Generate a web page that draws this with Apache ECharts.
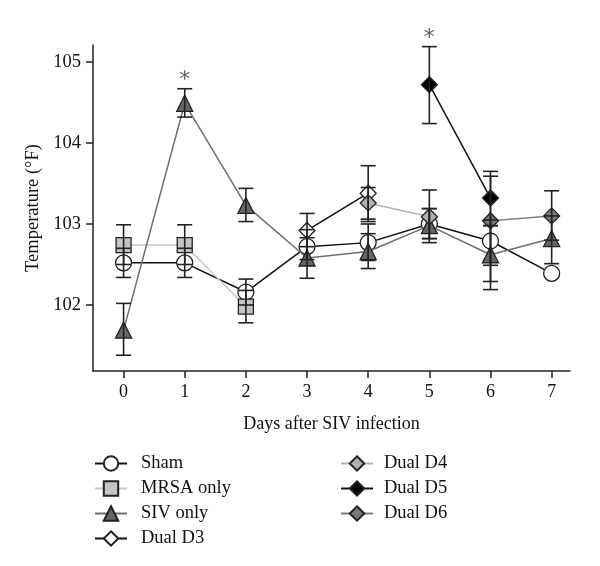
<!DOCTYPE html>
<html>
<head>
<meta charset="utf-8">
<script src="https://cdn.jsdelivr.net/npm/echarts@6/dist/echarts.min.js"></script>
<style>html,body{margin:0;padding:0;background:#fff}#c{width:600px;height:566px}</style>
</head>
<body>
<div id="c"></div>
<script>
const days = [0, 1, 2, 3, 4, 5, 6, 7];
const yTicks = [102, 103, 104, 105];

const shamMean = [102.52, 102.52, 102.16, 102.72, 102.77, 103.00, 102.79, 102.39];
const shamLow  = [102.34, 102.34, 102.00, 102.56, 102.55, 102.82, 102.29, null];
const shamHigh = [102.70, 102.70, 102.32, 102.93, 103.00, 103.19, 103.05, null];

const mrsaMean = [102.74, 102.74, 101.98, null, null, null, null, null];
const mrsaLow  = [102.50, 102.50, 101.78, null, null, null, null, null];
const mrsaHigh = [102.99, 102.99, 102.18, null, null, null, null, null];

const sivMean = [101.69, 104.49, 103.23, 102.58, 102.66, 102.98, 102.62, 102.82];
const sivLow  = [101.38, 104.32, 103.03, 102.33, 102.45, 102.77, 102.19, 102.51];
const sivHigh = [102.02, 104.67, 103.44, 102.83, 102.88, 103.19, 102.98, 103.10];

const d3Mean = [null, null, null, 102.92, 103.38, null, null, null];
const d3Low  = [null, null, null, 102.72, 103.06, null, null, null];
const d3High = [null, null, null, 103.13, 103.72, null, null, null];

const d4Mean = [null, null, null, null, 103.26, 103.09, null, null];
const d4Low  = [null, null, null, null, 103.03, 102.82, null, null];
const d4High = [null, null, null, null, 103.45, 103.42, null, null];

const d5Mean = [null, null, null, null, null, 104.72, 103.32, null];
const d5Low  = [null, null, null, null, null, 104.24, 102.98, null];
const d5High = [null, null, null, null, null, 105.19, 103.65, null];

const d6Mean = [null, null, null, null, null, null, 103.04, 103.10];
const d6Low  = [null, null, null, null, null, null, 102.49, 102.80];
const d6High = [null, null, null, null, null, null, 103.59, 103.41];

const sigDays = [1, 5];
const sigValues = [104.67, 105.19];

const FONT = '"Liberation Serif", "DejaVu Serif", serif';

const groups = [
  {name: 'Sham', mean: shamMean, low: shamLow, high: shamHigh, symbol: 'circle', size: 16, fill: '#ffffff', line: '#111111'},
  {name: 'MRSA only', mean: mrsaMean, low: mrsaLow, high: mrsaHigh, symbol: 'rect', size: 15, fill: '#c4c4c4', line: '#c8c8c8'},
  {name: 'SIV only', mean: sivMean, low: sivLow, high: sivHigh, symbol: 'triangle', size: 16, fill: '#666666', line: '#6e6e6e'},
  {name: 'Dual D3', mean: d3Mean, low: d3Low, high: d3High, symbol: 'diamond', size: 16, fill: '#ffffff', line: '#111111'},
  {name: 'Dual D4', mean: d4Mean, low: d4Low, high: d4High, symbol: 'diamond', size: 16, fill: '#b0b0b0', line: '#b4b4b4'},
  {name: 'Dual D5', mean: d5Mean, low: d5Low, high: d5High, symbol: 'diamond', size: 16, fill: '#000000', line: '#111111'},
  {name: 'Dual D6', mean: d6Mean, low: d6Low, high: d6High, symbol: 'diamond', size: 16, fill: '#7a7a7a', line: '#7e7e7e'}
];

const series = [];
groups.forEach(function (g, gi) {
  series.push({
    name: g.name,
    type: 'line',
    data: days.map(function (d, i) { return g.mean[i] == null ? [d, null] : [d, g.mean[i]]; }),
    connectNulls: false,
    symbol: g.symbol,
    symbolSize: g.size,
    showAllSymbol: true,
    lineStyle: {color: g.line, width: 1.5},
    itemStyle: {color: g.fill, borderColor: '#222222', borderWidth: 1.3},
    z: 2 + gi * 0.01,
    animation: false
  });
  const ebData = [];
  days.forEach(function (d, i) {
    if (g.low[i] != null && g.high[i] != null) ebData.push([d, g.low[i], g.high[i]]);
  });
  series.push({
    name: g.name + ' err',
    type: 'custom',
    data: ebData,
    z: 5,
    silent: true,
    animation: false,
    renderItem: function (params, api) {
      const x = api.value(0);
      const lo = api.coord([x, api.value(1)]);
      const hi = api.coord([x, api.value(2)]);
      const hw = 7.5;
      const st = {stroke: '#222222', lineWidth: 1.6};
      return {
        type: 'group',
        children: [
          {type: 'line', shape: {x1: lo[0], y1: lo[1], x2: hi[0], y2: hi[1]}, style: st},
          {type: 'line', shape: {x1: lo[0] - hw, y1: lo[1], x2: lo[0] + hw, y2: lo[1]}, style: st},
          {type: 'line', shape: {x1: hi[0] - hw, y1: hi[1], x2: hi[0] + hw, y2: hi[1]}, style: st}
        ]
      };
    }
  });
});

series.push({
  name: 'sig',
  type: 'scatter',
  data: sigDays.map(function (d, i) { return [d, sigValues[i]]; }),
  symbolSize: 1,
  itemStyle: {color: 'rgba(0,0,0,0)'},
  label: {show: true, position: 'top', distance: -3, formatter: '*', fontFamily: 'DejaVu Sans', fontSize: 22, color: '#333'},
  silent: true,
  animation: false
});

const chart = echarts.init(document.getElementById('c'), null, {renderer: 'canvas'});
chart.setOption({
  backgroundColor: '#ffffff',
  animation: false,
  grid: {left: 93, right: 30, top: 45, bottom: 195},
  xAxis: {
    type: 'value',
    min: -0.5,
    max: 7.3,
    name: 'Days after SIV infection',
    nameLocation: 'middle',
    nameGap: 44,
    nameTextStyle: {fontFamily: FONT, fontSize: 18, color: '#111'},
    axisLine: {show: true, onZero: false, lineStyle: {color: '#222', width: 1.5}},
    axisTick: {show: true, customValues: days, length: 7, lineStyle: {color: '#222', width: 1.5}},
    axisLabel: {customValues: days, fontFamily: FONT, fontSize: 18, color: '#111', margin: 12},
    splitLine: {show: false}
  },
  yAxis: {
    type: 'value',
    min: 101.185,
    max: 105.21,
    name: 'Temperature (°F)',
    nameLocation: 'middle',
    nameGap: 47,
    nameRotate: 90,
    nameTextStyle: {fontFamily: FONT, fontSize: 18.5, color: '#111'},
    axisLine: {show: true, onZero: false, lineStyle: {color: '#222', width: 1.5}},
    axisTick: {show: true, customValues: yTicks, length: 7, lineStyle: {color: '#222', width: 1.5}},
    axisLabel: {customValues: yTicks, fontFamily: FONT, fontSize: 18.5, color: '#111', margin: 12},
    splitLine: {show: false}
  },
  legend: [
    {
      data: ['Sham', 'MRSA only', 'SIV only', 'Dual D3'],
      orient: 'vertical',
      left: 89, top: 449,
      itemWidth: 32, itemHeight: 18, itemGap: 6,
      textStyle: {fontFamily: FONT, fontSize: 18.5, color: '#111', padding: [0, 0, 0, 9]},
      selectedMode: false
    },
    {
      data: ['Dual D4', 'Dual D5', 'Dual D6'],
      orient: 'vertical',
      left: 335, top: 449,
      itemWidth: 32, itemHeight: 18, itemGap: 6,
      textStyle: {fontFamily: FONT, fontSize: 18.5, color: '#111', padding: [0, 0, 0, 6]},
      selectedMode: false
    }
  ],
  series: series
});
</script>
</body>
</html>
